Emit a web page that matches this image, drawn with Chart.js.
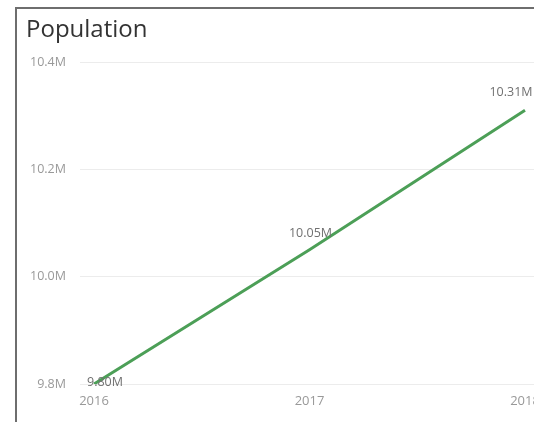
<!DOCTYPE html>
<html>
<head>
<meta charset="utf-8">
<script src="https://cdn.jsdelivr.net/npm/chart.js@4"></script>
<style>
html,body{margin:0;padding:0;background:#fff;overflow:hidden;width:534px;height:422px;}
#frame{position:absolute;left:15px;top:7px;width:600px;height:440px;border-left:2px solid #6e6e6e;border-top:2px solid #6e6e6e;}
#wrap{position:absolute;left:17px;top:9px;}
</style>
</head>
<body>
<div id="frame"></div>
<div id="wrap"><canvas id="c" width="540" height="413"></canvas></div>
<script>
const categories = ['2016', '2017', '2018'];
const population = [9.80, 10.05, 10.31];
const populationLabels = ['9.80M', '10.05M', '10.31M'];
const yTicks = [9.8, 10.0, 10.2, 10.4];
const yTickLabels = ['9.8M', '10.0M', '10.2M', '10.4M'];

const labelOffsets = [[11, -2], [1, -16], [-14, -18]];

const dataLabelPlugin = {
  id: 'dataLabels',
  afterDatasetsDraw(chart) {
    const meta = chart.getDatasetMeta(0);
    const ctx = chart.ctx;
    ctx.save();
    ctx.font = '12.5px "Open Sans", sans-serif';
    ctx.fillStyle = '#707070';
    ctx.textAlign = 'center';
    ctx.textBaseline = 'middle';
    meta.data.forEach((pt, i) => {
      const o = labelOffsets[i];
      ctx.fillText(populationLabels[i], pt.x + o[0], pt.y + o[1]);
    });
    ctx.restore();
  }
};

new Chart(document.getElementById('c'), {
  type: 'line',
  data: {
    datasets: [{
      data: categories.map((c, i) => ({ x: Number(c), y: population[i] })),
      borderColor: '#4c9f57',
      borderWidth: 3,
      pointRadius: 0,
      tension: 0,
      fill: false
    }]
  },
  options: {
    responsive: false,
    animation: false,
    layout: { padding: { left: 9, right: 0, top: 0, bottom: 0 } },
    plugins: {
      legend: { display: false },
      tooltip: { enabled: false },
      title: {
        display: true,
        text: 'Population',
        align: 'start',
        color: '#333',
        font: { family: '"Open Sans", sans-serif', size: 24, weight: 'normal' },
        padding: { top: 7, bottom: 17.2 }
      }
    },
    scales: {
      x: {
        type: 'linear',
        min: 2016 - 14 / 215.5,
        max: 2018 + 32 / 215.5,
        afterBuildTicks(s) { s.ticks = categories.map(c => ({ value: Number(c) })); },
        afterFit(s) { s.height = 38; },
        grid: { display: false, drawTicks: false },
        border: { display: false },
        ticks: {
          padding: 9,
          color: '#999',
          font: { family: '"Open Sans", sans-serif', size: 13 },
          maxRotation: 0,
          callback: (v) => String(v)
        }
      },
      y: {
        min: 9.8,
        max: 10.4,
        afterBuildTicks(s) { s.ticks = yTicks.map(v => ({ value: v })); },
        afterFit(s) { s.width = 54; },
        grid: { color: '#ececec', drawTicks: false, lineWidth: 1 },
        border: { display: false },
        ticks: {
          padding: 14,
          color: '#999',
          font: { family: '"Open Sans", sans-serif', size: 12.5 },
          callback: (v) => yTickLabels[yTicks.findIndex(t => Math.abs(t - v) < 1e-9)]
        }
      }
    }
  },
  plugins: [dataLabelPlugin]
});
</script>
</body>
</html>
